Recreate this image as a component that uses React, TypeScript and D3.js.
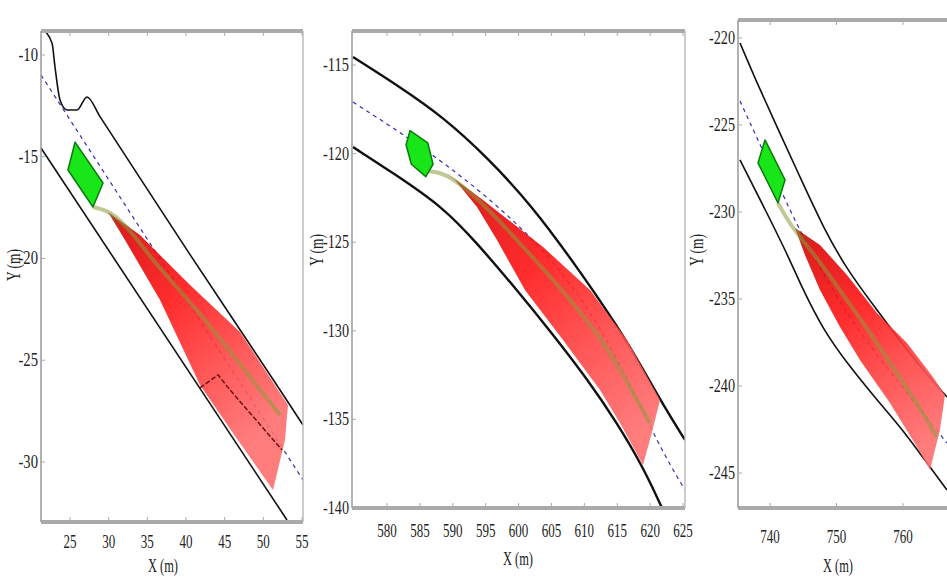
import React from 'react';
import * as d3 from 'd3';

// tick labels
const p1XTicks = [25, 30, 35, 40, 45, 50, 55];
const p1YTicks = [-10, -15, -20, -25, -30];
const p2XTicks = [580, 585, 590, 595, 600, 605, 610, 615, 620, 625];
const p2YTicks = [-115, -120, -125, -130, -135, -140];
const p3XTicks = [740, 750, 760];
const p3YTicks = [-220, -225, -230, -235, -240, -245];

// panel 1 (x, y in metres)
const p1Upper = [[21.3, -8.7], [22.67, -9.41], [23.06, -10.59], [23.71, -12.21], [24.61, -12.7], [25.91, -12.7], [27.2, -12.06], [28.88, -13.03], [40.5, -19.8], [52.16, -26.46], [55.13, -28.18]];
const p1Lower = [[21.25, -14.57], [53.06, -32.85]];
const p1Center = [[21.25, -10.98], [55.13, -30.88]];
const p1Vehicle = [[25.65, -14.28], [24.74, -15.65], [27.97, -17.47], [29.27, -16.29]];
const p1FanUpper = [[29.91, -17.71], [34.05, -18.85], [40.52, -21.3], [46.98, -23.61], [53.19, -27.2], [52.8, -28.92]];
const p1FanLower = [[29.91, -17.71], [32.11, -19.09], [36.64, -22.04], [41.81, -26.22], [46.34, -28.72], [51.25, -31.38]];
const p1Mean = [[27.97, -17.47], [29.91, -17.71], [36.64, -20.47], [43.49, -23.51], [47.89, -25.63], [52.16, -27.69]];
const p1Other = [[41.81, -26.36], [44.14, -25.72], [45.69, -26.46], [52.42, -29.41]];

// panel 2
const p2Upper = [[574.83, -114.55], [581.98, -116.24], [588.51, -117.93], [595.2, -120.19], [602.2, -123.01], [608.88, -126.4], [616.49, -130.52], [621.5, -133.91], [625.3, -136.16]];
const p2Lower = [[574.83, -119.63], [580.91, -121.09], [588.51, -123.01], [593.68, -125.05], [599.76, -127.7], [604.78, -130.0], [610.4, -132.7], [614.97, -135.2], [618.92, -137.69], [621.81, -140.0]];
const p2Center = [[574.83, -117.09], [588.51, -120.36], [602.2, -124.59], [612.38, -129.39], [621.04, -136.33], [625.3, -138.98]];
const p2Vehicle = [[583.5, -118.7], [582.9, -119.5], [583.7, -120.6], [585.9, -121.3], [587.0, -120.6], [586.2, -119.4]];
const p2FanUpper = [[588.82, -121.04], [594.59, -122.62], [603.72, -125.27], [610.86, -127.7], [616.49, -130.52], [621.5, -133.91], [620.29, -135.71]];
const p2FanLower = [[588.82, -121.04], [590.34, -121.49], [593.68, -123.01], [596.72, -124.88], [600.98, -127.7], [606.76, -130.52], [612.38, -133.34], [615.42, -135.2], [618.92, -137.57]];
const p2Mean = [[586.23, -121.0], [588.82, -121.04], [594.14, -122.62], [599.76, -124.88], [606.3, -127.53], [612.84, -130.52], [616.94, -133.17], [619.98, -135.2]];

// panel 3
const p3Upper = [[735.49, -220.29], [738.05, -222.59], [741.05, -225.11], [744.51, -227.99], [747.97, -230.86], [751.58, -233.33], [756.09, -235.63], [759.1, -237.18], [763.01, -239.08], [766.62, -240.63]];
const p3Lower = [[735.49, -227.01], [739.55, -230.06], [743.01, -232.76], [744.51, -234.1], [747.97, -236.78], [752.03, -238.91], [756.09, -240.8], [760.0, -242.53], [763.61, -244.43], [766.62, -245.98]];
const p3Center = [[735.49, -223.62], [740.0, -227.36], [744.51, -231.21], [752.03, -236.26], [759.55, -239.89], [766.62, -243.28]];
const p3Vehicle = [[739.25, -225.86], [738.2, -227.18], [741.2, -229.48], [742.26, -228.16]];
const p3FanUpper = [[743.76, -230.92], [747.52, -231.9], [751.58, -233.62], [756.09, -235.8], [760.6, -237.53], [764.51, -239.48], [766.32, -240.52], [765.56, -242.53]];
const p3FanLower = [[743.76, -230.92], [745.26, -232.47], [747.52, -234.48], [750.53, -236.61], [753.53, -238.51], [758.05, -240.98], [762.11, -243.51], [764.06, -244.83]];
const p3Mean = [[741.2, -229.48], [743.01, -230.75], [746.77, -232.47], [751.58, -235.06], [756.09, -237.53], [760.3, -239.94], [763.61, -241.95], [765.11, -242.93]];

type Pt = number[];

interface PanelProps {
  id: string;
  xDomain: number[]; xRange: number[];
  yDomain: number[]; yRange: number[];
  xTicks: number[]; yTicks: number[];
  upper: Pt[]; lower: Pt[]; center: Pt[]; vehicle: Pt[];
  fanUpper: Pt[]; fanLower: Pt[]; mean: Pt[]; other?: Pt[];
  xLabelPos: number[]; yLabelPos: number[];
  xLabelOffset: number; lineW: number; rightBorder: boolean;
  curve: d3.CurveFactory;
}

function Panel(p: PanelProps) {
  const x = d3.scaleLinear().domain(p.xDomain).range(p.xRange);
  const y = d3.scaleLinear().domain(p.yDomain).range(p.yRange);
  const line = d3.line<Pt>().x(d => x(d[0])).y(d => y(d[1]));
  const smooth = d3.line<Pt>().x(d => x(d[0])).y(d => y(d[1])).curve(p.curve);
  const [x0, x1] = p.xRange;
  const [yb, yt] = p.yRange;
  const fan = p.fanUpper.concat(p.fanLower.slice(1).reverse());
  const apex = p.fanUpper[0];
  const end = p.mean[p.mean.length - 1];
  const tickFont = { fontFamily: 'Liberation Serif', fontSize: 18, fill: '#222' };

  return (
    <g>
      <defs>
        <clipPath id={`clip-${p.id}`}>
          <rect x={x0} y={yt} width={x1 - x0} height={yb - yt} />
        </clipPath>
        <linearGradient id={`fan-${p.id}`} gradientUnits="userSpaceOnUse"
          x1={x(apex[0])} y1={y(apex[1])} x2={x(end[0])} y2={y(end[1])}>
          <stop offset="0" stopColor="#a02808" />
          <stop offset="0.1" stopColor="#dd0505" />
          <stop offset="0.4" stopColor="#ff1515" />
          <stop offset="0.7" stopColor="#ff4545" />
          <stop offset="1" stopColor="#ff6e6e" />
        </linearGradient>
      </defs>

      <g clipPath={`url(#clip-${p.id})`}>
        <path d={smooth(p.center) || ''} fill="none" stroke="#3030b0" strokeWidth={1.2} strokeDasharray="4,4" />
        <path d={smooth(p.upper) || ''} fill="none" stroke="#111" strokeWidth={p.lineW} />
        <path d={smooth(p.lower) || ''} fill="none" stroke="#111" strokeWidth={p.lineW} />
        <path d={line(fan) + 'Z'} fill={`url(#fan-${p.id})`} opacity={0.9} />
        <path d={smooth(p.mean) || ''} fill="none" stroke="#8c9a3c" strokeWidth={4} opacity={0.55} />
        {p.other && (
          <path d={line(p.other) || ''} fill="none" stroke="#701010" strokeWidth={1.5} strokeDasharray="5,2" />
        )}
        <path d={line(p.vehicle) + 'Z'} fill="#19e619" stroke="#0a7a0a" strokeWidth={1.5} strokeLinejoin="round" />
      </g>

      {/* frame */}
      <line x1={x0} x2={x1} y1={yt} y2={yt} stroke="#aaa" strokeWidth={4} />
      <line x1={x0} x2={x1} y1={yb} y2={yb} stroke="#aaa" strokeWidth={4} />
      <line x1={x0} x2={x0} y1={yt} y2={yb} stroke="#999" strokeWidth={1.5} />
      {p.rightBorder && <line x1={x1} x2={x1} y1={yt} y2={yb} stroke="#bbb" strokeWidth={1.5} />}

      {p.xTicks.map(t => (
        <g key={`x${t}`}>
          <line x1={x(t)} x2={x(t)} y1={yb} y2={yb - 5} stroke="#aaa" />
          <line x1={x(t)} x2={x(t)} y1={yt} y2={yt + 5} stroke="#aaa" />
          <text x={x(t)} y={yb + p.xLabelOffset} textAnchor="middle" {...tickFont}
            textLength={String(t).length * 6.5} lengthAdjust="spacingAndGlyphs">{t}</text>
        </g>
      ))}
      {p.yTicks.map(t => (
        <g key={`y${t}`}>
          <line x1={x0} x2={x0 + 4} y1={y(t)} y2={y(t)} stroke="#aaa" />
          <text x={x0 - 3} y={y(t) + 6} textAnchor="end" {...tickFont}
            textLength={String(t).length * 6.5} lengthAdjust="spacingAndGlyphs">{t}</text>
        </g>
      ))}

      <text x={p.xLabelPos[0]} y={p.xLabelPos[1]} textAnchor="middle" {...tickFont}
        textLength={30} lengthAdjust="spacingAndGlyphs">X (m)</text>
      <text transform={`translate(${p.yLabelPos[0]},${p.yLabelPos[1]}) rotate(-90)`} textAnchor="middle" {...tickFont}
        textLength={32} lengthAdjust="spacingAndGlyphs">Y (m)</text>
    </g>
  );
}

export default function App() {
  return (
    <svg width={947} height={580} style={{ position: 'absolute', left: 0, top: 0, background: '#fff' }}>
      <rect width={947} height={580} fill="#fff" />
      <Panel id="a" xDomain={[21.25, 55.13]} xRange={[41, 303]} yDomain={[-32.95, -8.82]} yRange={[522, 31]}
        xTicks={p1XTicks} yTicks={p1YTicks}
        upper={p1Upper} lower={p1Lower} center={p1Center} vehicle={p1Vehicle}
        fanUpper={p1FanUpper} fanLower={p1FanLower} mean={p1Mean} other={p1Other}
        xLabelPos={[163, 572]} yLabelPos={[20, 265]} xLabelOffset={26} lineW={1.6} rightBorder={true}
        curve={d3.curveMonotoneX} />
      <Panel id="b" xDomain={[574.68, 625.3]} xRange={[352, 685]} yDomain={[-140, -113.08]} yRange={[508, 31]}
        xTicks={p2XTicks} yTicks={p2YTicks}
        upper={p2Upper} lower={p2Lower} center={p2Center} vehicle={p2Vehicle}
        fanUpper={p2FanUpper} fanLower={p2FanLower} mean={p2Mean}
        xLabelPos={[518, 565]} yLabelPos={[323, 250]} xLabelOffset={29} lineW={2.4} rightBorder={true}
        curve={d3.curveBasis} />
      <Panel id="c" xDomain={[735.19, 766.77]} xRange={[738, 948]} yDomain={[-247.01, -218.97]} yRange={[508, 20]}
        xTicks={p3XTicks} yTicks={p3YTicks}
        upper={p3Upper} lower={p3Lower} center={p3Center} vehicle={p3Vehicle}
        fanUpper={p3FanUpper} fanLower={p3FanLower} mean={p3Mean}
        xLabelPos={[838, 572]} yLabelPos={[703, 250]} xLabelOffset={35} lineW={1.6} rightBorder={false}
        curve={d3.curveBasis} />
    </svg>
  );
}
